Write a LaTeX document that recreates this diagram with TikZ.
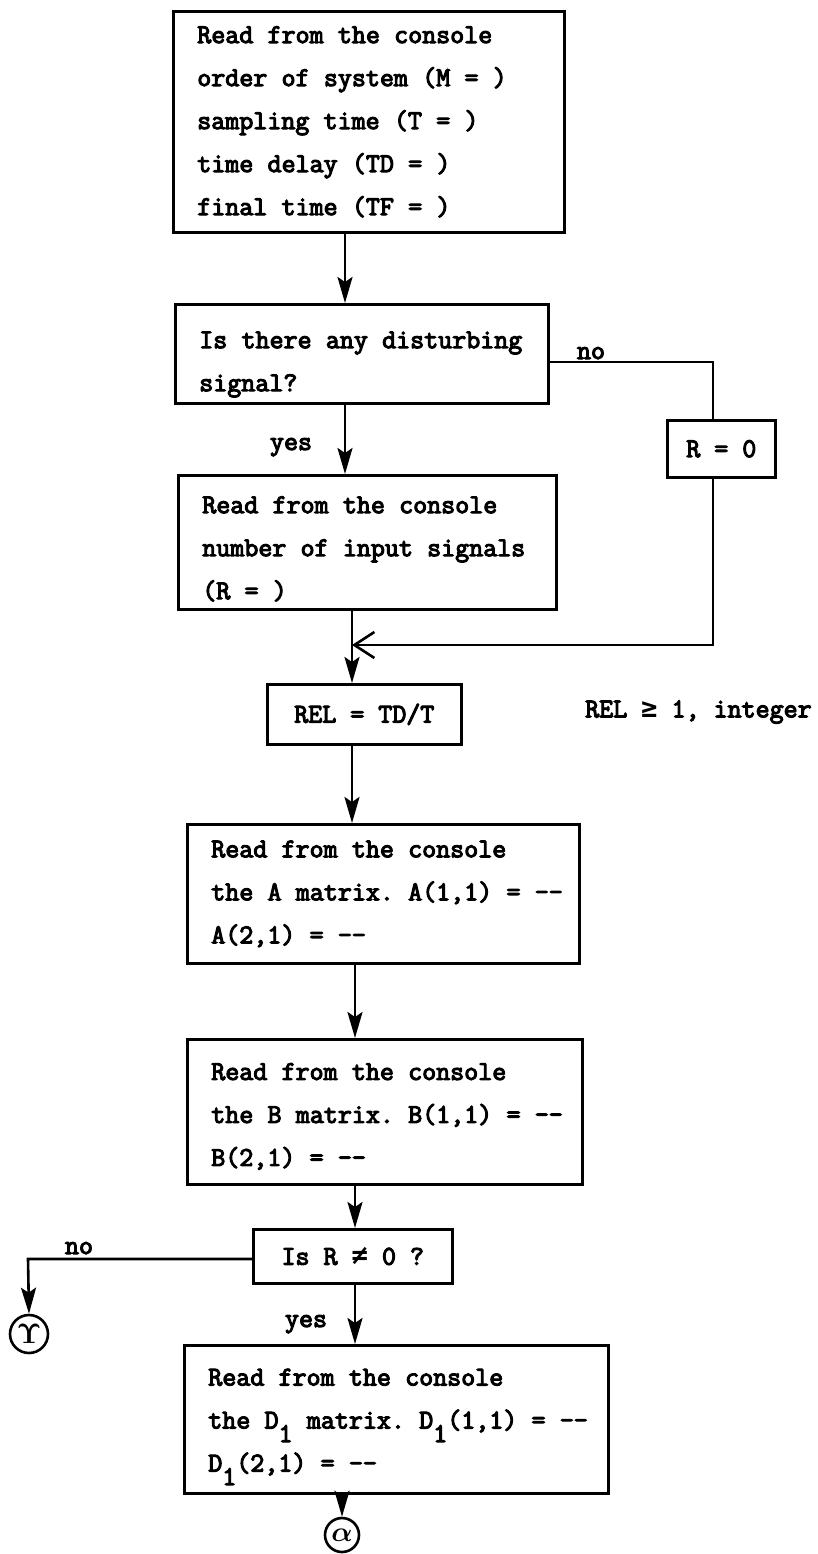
\documentclass[tikz,border=0pt]{standalone}
\usepackage{fix-cm}
\usepackage{amsmath}
\usepackage{fontspec}
\setmonofont{Latin Modern Mono}[AutoFakeBold=4]
\newfontfamily\symf{DejaVu Sans Mono}
\usetikzlibrary{arrows.meta}
\newcommand{\lowr}[1]{\raisebox{-0.5em}{#1}}
\newcommand{\topgap}[1]{\rule{0pt}{#1}}
\DeclareRobustCommand{\boxfont}{\fontsize{27.2}{43}\selectfont\ttfamily\bfseries}
\DeclareRobustCommand{\fixspace}{\frenchspacing\spaceskip=0.525em\xspaceskip=0.525em\relax}
\hfuzz=60pt

\begin{document}
\begin{tikzpicture}[x=1pt, y=-1pt,
    box/.style={rectangle, draw, line width=2.6pt, anchor=north west,
              inner xsep=24pt, inner ysep=0pt, align=left, font=\boxfont,
              execute at begin node=\fixspace},
    smallbox/.style={rectangle, draw, line width=2.6pt, anchor=north west,
              inner sep=0pt, align=center, font=\boxfont},
    conn/.style={circle, draw, line width=2.6pt, inner sep=0pt,
              font=\fontsize{28}{30}\selectfont},
    lbl/.style={anchor=base, inner sep=0pt, font=\boxfont},
    line/.style={line width=2.6pt},
    arrow/.style={-{Stealth[length=26pt, width=15pt, inset=5pt]}, line width=2.6pt}
]
    \useasboundingbox (0,0) rectangle (817,1554);

    % main column
    \node[box, text width=343pt, minimum height=221pt] (b1) at (172,10)
        {Read from the console\\order of system (M = )\\sampling time (T = )\\time delay (TD = )\\final time (TF = )};
    \node[box, text width=325pt, minimum height=99pt] (b2) at (174,303)
        {\topgap{38pt}\mbox{Is there any disturbing}\\signal?};
    \node[box, text width=330pt, minimum height=134pt] (b3) at (177,474)
        {\topgap{30pt}Read from the console\\\mbox{number of input signals}\\(R = )};
    \node[smallbox, minimum width=194pt, minimum height=60pt] (rel) at (266,683)
        {REL = TD/T};
    \node[box, text width=344pt, minimum height=139pt] (b4) at (186,823)
        {Read from the console\\\mbox{the A matrix. A(1,1) = --}\\A(2,1) = --};
    \node[box, text width=347pt, minimum height=145pt] (b5) at (186,1038)
        {\topgap{26pt}Read from the console\\\mbox{the B matrix. B(1,1) = --}\\B(2,1) = --};
    \node[smallbox, minimum width=199pt, minimum height=54pt] (dec) at (252,1228)
        {Is R {\symf\bfseries ≠} 0 ?};
    \node[box, text width=376pt, minimum height=148pt] (b6) at (183,1344)
        {\topgap{32pt}Read from the console\\\mbox{the D\lowr{1} matrix. D\lowr{1}(1,1) = --}\\D\lowr{1}(2,1) = --};

    % side branch and notes
    \node[smallbox, minimum width=108pt, minimum height=57pt] (r0) at (666,419)
        {R = 0};
    \node[lbl, anchor=west] (cond) at (585,712) {REL {\symf\bfseries ≥} 1, integer};
    \node[conn, minimum size=38pt] (gam) at (29,1334) {$\boldsymbol{\Upsilon}$};
    \node[conn, minimum size=34pt] (alp) at (342,1535) {$\boldsymbol{\alpha}$};

    \node[lbl] (no1) at (591,359) {no};
    \node[lbl] (yes1) at (291,450) {yes};
    \node[lbl] (no2) at (79,1254) {no};
    \node[lbl] (yes2) at (306,1327) {yes};

    \coordinate (a1) at (345,0);
    \coordinate (a2) at (352,0);
    \coordinate (a3) at (355,0);
    \coordinate (a4) at (342,0);
    \coordinate (nr) at (713,362);
    \coordinate (mr) at (713,645);
    \coordinate (nl) at (28,1259);

    \draw[arrow] (b1.south -| a1) -- (b2.north -| a1);
    \draw[arrow] (b2.south -| a1) -- (b3.north -| a1);
    \draw[line] (b2.east |- nr) -- (nr) -- (r0.north -| nr);
    \draw[line, -{Straight Barb[length=20pt, width=26pt]}]
        (r0.south -| nr) -- (mr) -- (mr -| a2);
    \draw[arrow] (b3.south -| a2) -- (rel.north -| a2);
    \draw[arrow] (rel.south -| a2) -- (b4.north -| a2);
    \draw[arrow] (b4.south -| a3) -- (b5.north -| a3);
    \draw[arrow] (b5.south -| a3) -- (dec.north -| a3);
    \draw[arrow] (dec.west |- nl) -- (nl) -- (gam.north);
    \draw[arrow] (dec.south -| a3) -- (b6.north -| a3);
    \draw[arrow] (b6.south -| a4) -- (alp.north);
\end{tikzpicture}
\end{document}
